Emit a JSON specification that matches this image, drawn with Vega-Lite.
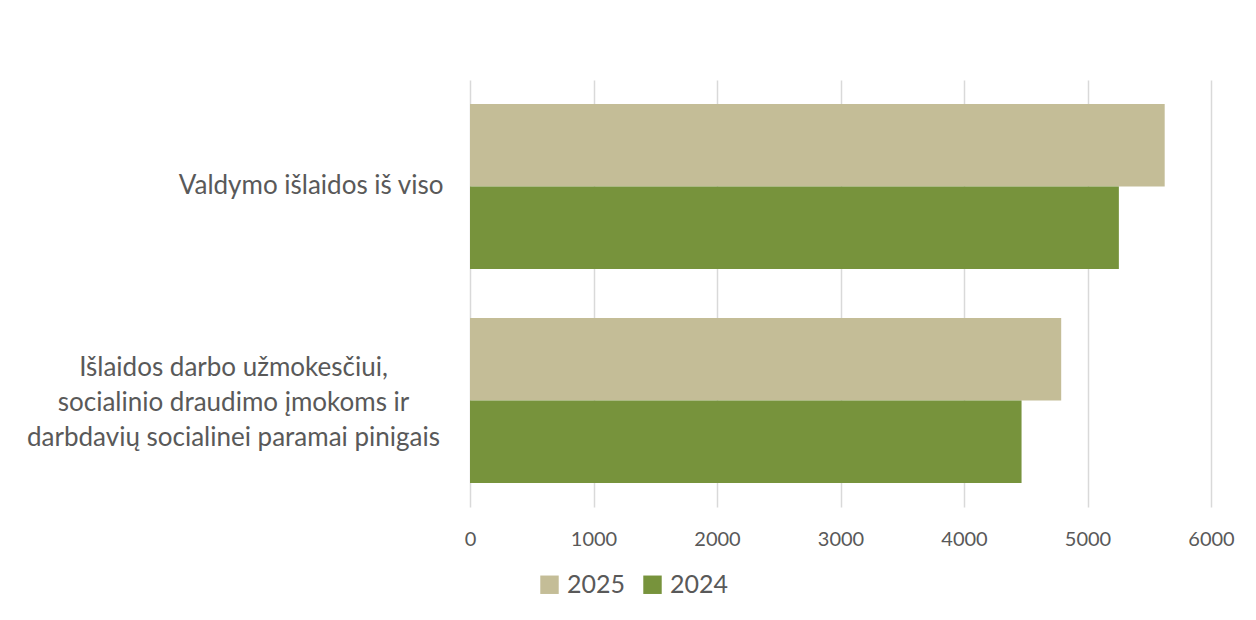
{
  "$schema": "https://vega.github.io/schema/vega-lite/v6.json",
  "width": 741,
  "height": 427,
  "autosize": {"type": "none"},
  "padding": {"left": 470, "top": 80, "right": 45, "bottom": 113},
  "background": "white",
  "config": {
    "font": "Lato",
    "view": {"stroke": null},
    "axis": {"labelColor": "#595959", "labelFont": "Lato"},
    "legend": {"labelColor": "#595959", "labelFont": "Lato"}
  },
  "data": {
    "values": [
      {"category": "Valdymo išlaidos iš viso", "year": "2025", "value": 5625},
      {"category": "Valdymo išlaidos iš viso", "year": "2024", "value": 5254},
      {"category": "Išlaidos darbo užmokesčiui, socialinio draudimo įmokoms ir darbdavių socialinei paramai pinigais", "year": "2025", "value": 4787},
      {"category": "Išlaidos darbo užmokesčiui, socialinio draudimo įmokoms ir darbdavių socialinei paramai pinigais", "year": "2024", "value": 4466}
    ]
  },
  "mark": {"type": "bar"},
  "encoding": {
    "y": {
      "field": "category",
      "type": "nominal",
      "sort": ["Valdymo išlaidos iš viso", "Išlaidos darbo užmokesčiui, socialinio draudimo įmokoms ir darbdavių socialinei paramai pinigais"],
      "scale": {"paddingInner": 0.229, "paddingOuter": 0.112},
      "axis": {
        "title": null,
        "domain": false,
        "ticks": false,
        "grid": false,
        "labelFontSize": 26,
        "labelLineHeight": 35,
        "labelLimit": 600,
        "labelBaseline": "middle",
        "labelAlign": {"condition": {"test": "indexof(datum.value, 'užmokesčiui') >= 0", "value": "center"}, "value": "right"},
        "labelPadding": {"condition": {"test": "indexof(datum.value, 'užmokesčiui') >= 0", "value": 237}, "value": 27},
        "labelOffset": {"condition": {"test": "indexof(datum.value, 'užmokesčiui') >= 0", "value": -33}, "value": 0},
        "labelExpr": "indexof(datum.value, 'užmokesčiui') >= 0 ? ['Išlaidos darbo užmokesčiui,', 'socialinio draudimo įmokoms ir', 'darbdavių socialinei paramai pinigais'] : datum.value"
      }
    },
    "yOffset": {
      "field": "year",
      "type": "nominal",
      "sort": ["2025", "2024"],
      "scale": {"paddingInner": 0, "paddingOuter": 0}
    },
    "x": {
      "field": "value",
      "type": "quantitative",
      "scale": {"domain": [0, 6000], "nice": false},
      "axis": {
        "title": null,
        "values": [0, 1000, 2000, 3000, 4000, 5000, 6000],
        "format": "d",
        "domain": false,
        "ticks": false,
        "grid": true,
        "gridColor": "#D9D9D9",
        "gridWidth": 1.5,
        "labelFlush": false,
        "labelFontSize": 20,
        "labelPadding": 22
      }
    },
    "color": {
      "field": "year",
      "type": "nominal",
      "sort": ["2025", "2024"],
      "scale": {"domain": ["2025", "2024"], "range": ["#C4BD97", "#77933C"]},
      "legend": {
        "title": null,
        "orient": "none",
        "direction": "horizontal",
        "legendX": 67,
        "legendY": 492,
        "padding": 0,
        "symbolType": "square",
        "symbolSize": 340,
        "symbolStrokeWidth": 0,
        "labelFontSize": 25,
        "labelOffset": 5,
        "columnPadding": 14
      }
    }
  }
}
